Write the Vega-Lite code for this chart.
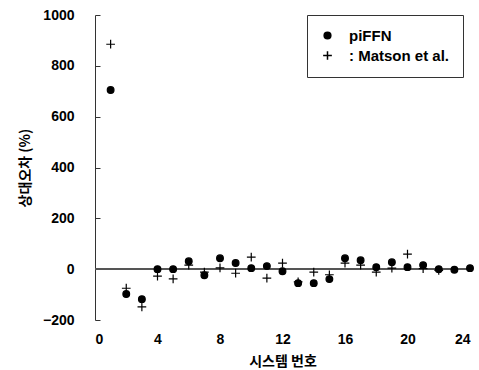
{
  "$schema": "https://vega.github.io/schema/vega-lite/v6.json",
  "width": 375,
  "height": 305,
  "autosize": {"type": "none"},
  "padding": {"left": 95, "top": 15, "right": 9, "bottom": 50},
  "background": "white",
  "config": {
    "view": {"stroke": null},
    "font": "Liberation Sans",
    "axis": {"grid": false, "labelFont": "Liberation Sans", "labelFontWeight": "bold", "labelFontSize": 14, "labelColor": "black", "titleColor": "black", "titleFont": "Noto Sans CJK KR", "titleFontWeight": "bold", "titleFontSize": 14}
  },
  "data": {
    "values": [
      {"system": 1, "series": "piFFN", "value": 705},
      {"system": 2, "series": "piFFN", "value": -98},
      {"system": 3, "series": "piFFN", "value": -118},
      {"system": 4, "series": "piFFN", "value": 0},
      {"system": 5, "series": "piFFN", "value": 0},
      {"system": 6, "series": "piFFN", "value": 31},
      {"system": 7, "series": "piFFN", "value": -24},
      {"system": 8, "series": "piFFN", "value": 43},
      {"system": 9, "series": "piFFN", "value": 24},
      {"system": 10, "series": "piFFN", "value": 4},
      {"system": 11, "series": "piFFN", "value": 12},
      {"system": 12, "series": "piFFN", "value": -8},
      {"system": 13, "series": "piFFN", "value": -55},
      {"system": 14, "series": "piFFN", "value": -55},
      {"system": 15, "series": "piFFN", "value": -39},
      {"system": 16, "series": "piFFN", "value": 43},
      {"system": 17, "series": "piFFN", "value": 35},
      {"system": 18, "series": "piFFN", "value": 8},
      {"system": 19, "series": "piFFN", "value": 27},
      {"system": 20, "series": "piFFN", "value": 8},
      {"system": 21, "series": "piFFN", "value": 16},
      {"system": 22, "series": "piFFN", "value": 0},
      {"system": 23, "series": "piFFN", "value": -2},
      {"system": 24, "series": "piFFN", "value": 4},
      {"system": 1, "series": ": Matson et al.", "value": 885},
      {"system": 2, "series": ": Matson et al.", "value": -75},
      {"system": 3, "series": ": Matson et al.", "value": -148},
      {"system": 4, "series": ": Matson et al.", "value": -27},
      {"system": 5, "series": ": Matson et al.", "value": -38},
      {"system": 6, "series": ": Matson et al.", "value": 16},
      {"system": 7, "series": ": Matson et al.", "value": -12},
      {"system": 8, "series": ": Matson et al.", "value": 5},
      {"system": 9, "series": ": Matson et al.", "value": -16},
      {"system": 10, "series": ": Matson et al.", "value": 47},
      {"system": 11, "series": ": Matson et al.", "value": -35},
      {"system": 12, "series": ": Matson et al.", "value": 24},
      {"system": 13, "series": ": Matson et al.", "value": -50},
      {"system": 14, "series": ": Matson et al.", "value": -12},
      {"system": 15, "series": ": Matson et al.", "value": -22},
      {"system": 16, "series": ": Matson et al.", "value": 24},
      {"system": 17, "series": ": Matson et al.", "value": 16},
      {"system": 18, "series": ": Matson et al.", "value": -12},
      {"system": 19, "series": ": Matson et al.", "value": 4},
      {"system": 20, "series": ": Matson et al.", "value": 59},
      {"system": 21, "series": ": Matson et al.", "value": 2},
      {"system": 22, "series": ": Matson et al.", "value": -5}
    ]
  },
  "layer": [
    {
      "mark": {"type": "rule", "color": "#555555", "strokeWidth": 1},
      "encoding": {"y": {"datum": 0, "type": "quantitative"}}
    },
    {
      "mark": {"type": "point", "filled": true, "opacity": 1, "color": "black", "stroke": "black", "strokeWidth": 1.2, "size": 45},
      "encoding": {
        "x": {
          "field": "system", "type": "quantitative",
          "scale": {"domain": [0, 24], "nice": false},
          "axis": {"values": [0, 4, 8, 12, 16, 20, 24], "title": "시스템 번호", "domain": false, "ticks": false, "labelPadding": 12, "titlePadding": 8}
        },
        "y": {
          "field": "value", "type": "quantitative",
          "scale": {"domain": [-200, 1000], "nice": false},
          "axis": {"values": [-200, 0, 200, 400, 600, 800, 1000], "format": "d", "title": "상대오차 (%)", "domainColor": "#333333", "tickColor": "#333333", "tickSize": -5, "labelPadding": 26, "titlePadding": 10}
        },
        "shape": {
          "field": "series", "type": "nominal",
          "scale": {"domain": ["piFFN", ": Matson et al."], "range": ["circle", "M-1.3,0H1.3M0,-1.3V1.3"]},
          "legend": {
            "title": null, "orient": "none", "legendX": 212, "legendY": 0, "strokeColor": "#333333", "fillColor": "white", "padding": 13,
            "labelFont": "Liberation Sans", "labelFontWeight": "bold", "labelFontSize": 15, "labelColor": "black", "labelOffset": 14, "rowPadding": 4, "symbolSize": 45,
            "encode": {"symbols": {"update": {"fill": {"value": "black"}, "stroke": {"value": "black"}, "strokeWidth": {"value": 1.2}, "opacity": {"value": 1}}}}
          }
        }
      }
    }
  ]
}
